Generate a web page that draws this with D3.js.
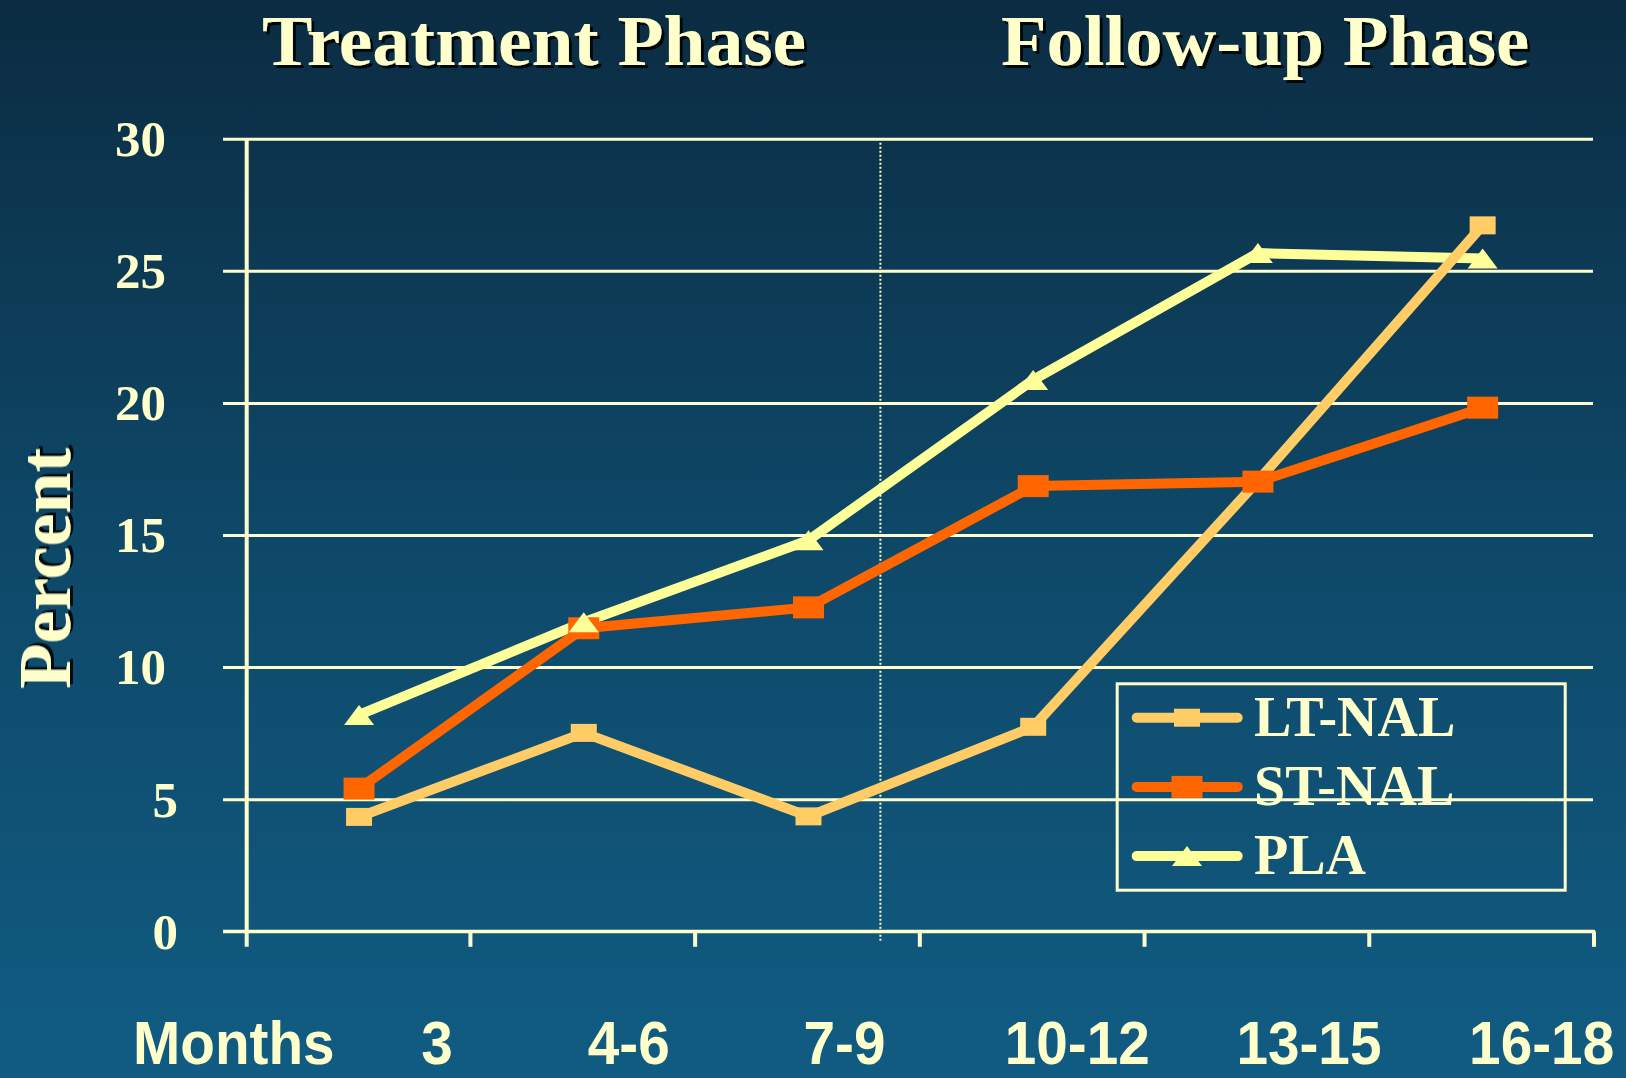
<!DOCTYPE html>
<html>
<head>
<meta charset="utf-8">
<script src="https://cdn.jsdelivr.net/npm/d3@7"></script>
<style>
  html, body { margin: 0; padding: 0; background: #0e4566; }
  svg { display: block; }
</style>
</head>
<body>
<svg id="chart" width="1626" height="1078"></svg>
<script>
// Percent of patients, by months since start
const months = ["3", "4-6", "7-9", "10-12", "13-15", "16-18"];
const ltNal = [4.33, 7.51, 4.35, 7.74, 17.05, 26.72];
const stNal = [5.40, 11.47, 12.26, 16.85, 17.02, 19.82];
const pla = [8.19, 11.70, 14.80, 20.87, 25.67, 25.47];
const yTicks = [0, 5, 10, 15, 20, 25, 30];
const seriesNames = ["LT-NAL", "ST-NAL", "PLA"];
const phaseTitles = ["Treatment Phase", "Follow-up Phase"];
const xAxisTitle = "Months";
const yAxisTitle = "Percent";

const W = 1626, H = 1078;
const cream = "#FFFFCC";
const serif = "'Liberation Serif', 'Times New Roman', serif";
const sans = "'Liberation Sans', Arial, sans-serif";

const svg = d3.select("#chart");

// background gradient and text shadow filter
const defs = svg.append("defs");
const grad = defs.append("linearGradient").attr("id", "bg")
  .attr("x1", 0).attr("y1", 0).attr("x2", 0).attr("y2", 1);
grad.append("stop").attr("offset", 0).attr("stop-color", "#0b2c42");
grad.append("stop").attr("offset", 0.5).attr("stop-color", "#0e4868");
grad.append("stop").attr("offset", 1).attr("stop-color", "#115c83");
svg.append("rect").attr("width", W).attr("height", H).attr("fill", "url(#bg)");

const shadow = defs.append("filter").attr("id", "shadow")
  .attr("x", "-10%").attr("y", "-10%").attr("width", "120%").attr("height", "130%");
shadow.append("feDropShadow")
  .attr("dx", 3).attr("dy", 3).attr("stdDeviation", 0.4)
  .attr("flood-color", "#000").attr("flood-opacity", 0.85);

// plot frame
const plotLeft = 246.7, plotRight = 1595, plotTop = 138.7, plotBottom = 931.3;
const gridStart = 223, tickDrop = 15.5;

const x = d3.scaleBand().domain(months).range([plotLeft, plotRight]).padding(0);
const y = d3.scaleLinear().domain([0, 30]).range([plotBottom, plotTop]);
const cx = (i) => x(months[i]) + x.bandwidth() / 2;

// horizontal gridlines + y tick labels
const yAxis = d3.axisLeft(y)
  .tickValues(yTicks)
  .tickSizeInner(-(plotRight - 2 - gridStart))
  .tickSizeOuter(0)
  .tickPadding(57)
  .tickFormat(d3.format("d"));

const yg = svg.append("g").attr("transform", `translate(${gridStart},0)`).call(yAxis);
yg.select(".domain").remove();
yg.selectAll(".tick line").attr("stroke", cream).attr("stroke-width", 3);
yg.selectAll(".tick text")
  .attr("fill", cream)
  .attr("font-family", serif)
  .attr("font-weight", "bold")
  .attr("font-size", 51)
  .attr("dy", "0.33em")
  .attr("dx", d => String(d).length === 1 ? 12 : 0);

// phase divider (dotted), placed in band units along the x scale
const dividerAt = 2.82;
const xDivider = plotLeft + dividerAt * x.step();
svg.append("line")
  .attr("x1", xDivider).attr("x2", xDivider)
  .attr("y1", plotTop + 4).attr("y2", plotBottom + 10)
  .attr("stroke", cream).attr("stroke-width", 2)
  .attr("stroke-dasharray", "2,2");

// x axis line, y axis line, and band-boundary ticks
svg.append("line")
  .attr("x1", gridStart).attr("x2", plotRight)
  .attr("y1", plotBottom).attr("y2", plotBottom)
  .attr("stroke", cream).attr("stroke-width", 3);
svg.append("line")
  .attr("x1", plotLeft).attr("x2", plotLeft)
  .attr("y1", plotTop).attr("y2", plotBottom + tickDrop)
  .attr("stroke", cream).attr("stroke-width", 4);
const boundaries = months.map(m => x(m)).concat([x.range()[1]]);
svg.append("g").selectAll("line")
  .data(boundaries.slice(1))
  .join("line")
  .attr("x1", d => d - 1).attr("x2", d => d - 1)
  .attr("y1", plotBottom).attr("y2", plotBottom + tickDrop)
  .attr("stroke", cream).attr("stroke-width", 4);

// series
const series = [
  { name: seriesNames[0], values: ltNal, color: "#FFCC66", marker: "rect", mw: 26, mh: 18 },
  { name: seriesNames[1], values: stNal, color: "#FF6600", marker: "rect", mw: 31, mh: 22 },
  { name: seriesNames[2], values: pla, color: "#FFFF99", marker: "tri", mw: 30, mh: 20 }
];

const line = d3.line().x((d, i) => cx(i)).y(d => y(d));

// lines: placebo underneath, LT-NAL on top
const lineOrder = [2, 1, 0];
svg.append("g").selectAll("path")
  .data(lineOrder.map(k => series[k]))
  .join("path")
  .attr("d", s => line(s.values))
  .attr("fill", "none")
  .attr("stroke", s => s.color)
  .attr("stroke-width", 10)
  .attr("stroke-linejoin", "round");

function drawMarker(g, s, px, py) {
  if (s.marker === "rect") {
    g.append("rect")
      .attr("x", px - s.mw / 2).attr("y", py - s.mh / 2)
      .attr("width", s.mw).attr("height", s.mh)
      .attr("fill", s.color);
  } else {
    g.append("path")
      .attr("d", `M${px},${py - s.mh / 2} L${px + s.mw / 2},${py + s.mh / 2} L${px - s.mw / 2},${py + s.mh / 2} Z`)
      .attr("fill", s.color);
  }
}

const markers = svg.append("g");
series.forEach(s => {
  s.values.forEach((v, i) => drawMarker(markers, s, cx(i), y(v)));
});

// legend
const lg = svg.append("g");
const lx0 = 1115.7, ly0 = 682.3, lw = 451, lh = 209.4;
lg.append("rect")
  .attr("x", lx0 + 1.5).attr("y", ly0 + 1.5)
  .attr("width", lw - 3).attr("height", lh - 3)
  .attr("fill", "none").attr("stroke", cream).attr("stroke-width", 3);
series.forEach((s, k) => {
  const ry = 717.7 + k * 69.2;
  lg.append("line")
    .attr("x1", 1136.7).attr("x2", 1237.7)
    .attr("y1", ry).attr("y2", ry)
    .attr("stroke", s.color).attr("stroke-width", 10)
    .attr("stroke-linecap", "round");
  drawMarker(lg, s, 1187, ry);
  lg.append("text")
    .attr("x", 1254).attr("y", ry + 18)
    .attr("fill", cream)
    .attr("font-family", serif).attr("font-weight", "bold")
    .attr("font-size", 56)
    .text(s.name);
});

// phase titles with drop shadow
const titleX = [262, 1001];
const titleWidth = [544, 528];
svg.append("g").selectAll("text")
  .data(phaseTitles)
  .join("text")
  .attr("x", (d, i) => titleX[i]).attr("y", 65)
  .attr("fill", cream)
  .attr("font-family", serif).attr("font-weight", "bold").attr("font-size", 72)
  .attr("textLength", (d, i) => titleWidth[i])
  .attr("lengthAdjust", "spacingAndGlyphs")
  .attr("filter", "url(#shadow)")
  .text(d => d);

// y axis title, rotated
svg.append("text")
  .attr("transform", `translate(70,568.5) rotate(-90)`)
  .attr("text-anchor", "middle")
  .attr("fill", cream)
  .attr("font-family", serif).attr("font-weight", "bold").attr("font-size", 74)
  .attr("filter", "url(#shadow)")
  .text(yAxisTitle);

// month labels along the bottom (slightly condensed sans)
const labelNudge = [78, 45, 36, 44, 51, 59];
const condense = 0.93;
const bottomLabels = svg.append("g")
  .attr("fill", cream)
  .attr("font-family", sans).attr("font-weight", "bold").attr("font-size", 61);
bottomLabels.append("text")
  .attr("x", 133).attr("y", 1064)
  .text(xAxisTitle);
bottomLabels.selectAll("text.m")
  .data(months)
  .join("text")
  .attr("class", "m")
  .attr("text-anchor", "middle")
  .attr("x", (d, i) => cx(i) + labelNudge[i]).attr("y", 1064)
  .text(d => d);
bottomLabels.selectAll("text").each(function () {
  const t = d3.select(this);
  t.attr("textLength", this.getComputedTextLength() * condense)
   .attr("lengthAdjust", "spacingAndGlyphs");
});
</script>
</body>
</html>
